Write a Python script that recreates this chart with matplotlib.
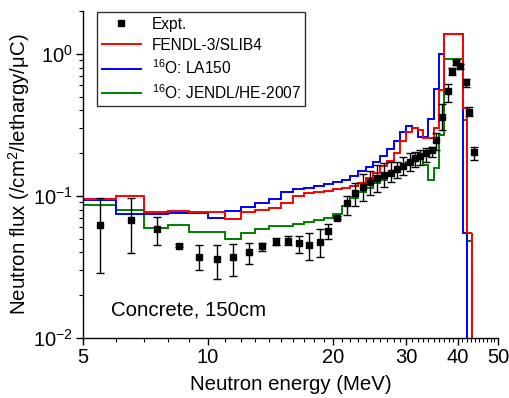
import numpy as np
import matplotlib
matplotlib.use("Agg")
import matplotlib.pyplot as plt
from matplotlib.lines import Line2D
from matplotlib.ticker import FixedLocator, MultipleLocator, LogLocator, NullFormatter, FuncFormatter

plt.rcParams['font.family'] = ['Liberation Sans', 'DejaVu Sans']
plt.rcParams['mathtext.fontset'] = 'custom'
plt.rcParams['mathtext.rm'] = 'Liberation Sans'
plt.rcParams['mathtext.it'] = 'Liberation Sans:italic'
plt.rcParams['mathtext.bf'] = 'Liberation Sans:bold'

# ---- histogram bin edges (MeV) ----
edges = [5, 6, 7, 8, 9, 10, 11, 12, 13, 14, 15, 16, 17, 18, 19, 20, 21, 22, 23, 24,
         25, 26, 27, 28, 29, 30, 31, 32, 33, 34, 35, 36, 37, 41.1, 42.1, 43.2]

fendl = [0.095, 0.099, 0.077, 0.078, 0.0776, 0.0772, 0.0686, 0.077, 0.0797, 0.0815,
         0.0888, 0.099, 0.1044, 0.107, 0.109, 0.111, 0.113, 0.118, 0.123, 0.133,
         0.146, 0.161, 0.176, 0.20, 0.245, 0.28, 0.298, 0.29, 0.255, 0.255,
         0.30, 0.56, 1.38, 0.415, 0.055]

la150 = [0.094, 0.0743, 0.0743, 0.0756, 0.0756, 0.0697, 0.0785, 0.0832, 0.0888, 0.0948,
         0.106, 0.1125, 0.114, 0.117, 0.121, 0.126, 0.130, 0.138, 0.149, 0.159,
         0.174, 0.19, 0.213, 0.245, 0.28, 0.308, 0.30, 0.259, 0.259, 0.349,
         0.565, 1.0, 1.38, 0.055]

jendl = [0.086, 0.079, 0.059, 0.062, 0.056, 0.056, 0.050, 0.055, 0.0586, 0.0615,
         0.061, 0.0636, 0.066, 0.068, 0.070, 0.074, 0.085, 0.097, 0.106, 0.114,
         0.123, 0.13, 0.138, 0.150, 0.16, 0.172, 0.182, 0.182, 0.165, 0.129,
         0.158, 0.27, 0.918, 0.343, 0.048]

# ---- experimental data ----
e_exp = [5.51, 6.51, 7.52, 8.51, 9.52, 10.5, 11.5, 12.56, 13.5, 14.6, 15.6, 16.6, 17.5,
         18.6, 19.5, 20.5, 21.6, 22.6, 23.6, 24.6, 25.5, 26.6, 27.6, 28.6, 29.5, 30.7,
         31.5, 32.5, 33.6, 34.6, 35.5, 36.7, 37.8, 38.7, 39.6, 40.6, 41.8, 42.6, 43.8]
f_exp = [0.0625, 0.0678, 0.0583, 0.0447, 0.0374, 0.0358, 0.037, 0.0405, 0.0447, 0.0477,
         0.0484, 0.0465, 0.0451, 0.0477, 0.057, 0.0704, 0.0889, 0.1056, 0.1164, 0.126,
         0.133, 0.1406, 0.1458, 0.154, 0.163, 0.174, 0.184, 0.191, 0.20, 0.209, 0.248,
         0.358, 0.543, 0.751, 0.869, 0.814, 0.628, 0.392, 0.202]
f_lo = [0.0287, 0.0395, 0.0451, 0.0437, 0.0300, 0.0259, 0.0275, 0.0332, 0.0409, 0.0451,
        0.0451, 0.0398, 0.0351, 0.0374, 0.0499, 0.069, 0.0735, 0.085, 0.092, 0.101,
        0.107, 0.116, 0.126, 0.133, 0.141, 0.149, 0.159, 0.166, 0.174, 0.189, 0.211,
        0.29, 0.461, 0.71, 0.83, 0.78, 0.583, 0.362, 0.179]
f_hi = [0.0965, 0.0965, 0.0707, 0.0457, 0.0451, 0.0451, 0.0458, 0.0469, 0.0469, 0.0503,
        0.052, 0.0523, 0.0545, 0.0581, 0.0633, 0.0717, 0.099, 0.124, 0.142, 0.149,
        0.165, 0.170, 0.174, 0.174, 0.189, 0.200, 0.205, 0.211, 0.218, 0.222, 0.276,
        0.44, 0.615, 0.79, 0.905, 0.85, 0.663, 0.42, 0.222]

x_ticks = [5, 10, 20, 30, 40, 50]

fig = plt.figure(figsize=(5.10, 3.98), dpi=100)
ax = fig.add_axes([0.1627, 0.1508, 0.8138, 0.8216])

lw = 1.4
floor = 1e-4
series = [(jendl, '#008000', r'$^{16}$O: JENDL/HE-2007'),
          (la150, '#0000ff', r'$^{16}$O: LA150'),
          (fendl, '#ff0000', 'FENDL-3/SLIB4')]
for vals, col, lab in series:
    e = edges[:len(vals) + 1]
    ax.stairs(vals, e, baseline=None, color=col, lw=lw)
    ax.vlines(e[-1], floor, vals[-1], color=col, lw=lw)

e_arr = np.array(e_exp)
f_arr = np.array(f_exp)
yerr = [f_arr - np.array(f_lo), np.array(f_hi) - f_arr]
ax.errorbar(e_arr, f_arr, yerr=yerr, fmt='s', color='black', ms=4.2,
            ecolor='black', elinewidth=1.0, capsize=2.8, capthick=1.0, zorder=5)

ax.set_xscale('log')
ax.set_yscale('log')
ax.set_xlim(5, 50)
ax.set_ylim(0.01, 2)

ax.xaxis.set_major_locator(FixedLocator(x_ticks))
ax.xaxis.set_major_formatter(FuncFormatter(lambda v, p: f"{v:g}"))
ax.xaxis.set_minor_locator(MultipleLocator(1))
ax.xaxis.set_minor_formatter(NullFormatter())
ax.yaxis.set_major_locator(LogLocator(base=10, numticks=10))
ax.yaxis.set_minor_locator(LogLocator(base=10, subs=np.arange(2, 10), numticks=10))
ax.yaxis.set_minor_formatter(NullFormatter())

for s in ['top', 'right']:
    ax.spines[s].set_visible(False)
for s in ['left', 'bottom']:
    ax.spines[s].set_linewidth(1.0)
ax.tick_params(which='major', direction='out', length=5, width=1.0, labelsize=14.5, pad=2)
ax.tick_params(which='minor', direction='out', length=3, width=0.8)

ax.set_xlabel('Neutron energy (MeV)', fontsize=14.7, labelpad=6)
ax.set_ylabel(r'Neutron flux (/cm$^2$/lethargy/μC)', fontsize=14.7, labelpad=1)

ax.text(0.067, 0.085, 'Concrete, 150cm', transform=ax.transAxes, fontsize=14.7,
        ha='left', va='center')

h_exp = Line2D([], [], ls='none', marker='s', color='black', ms=4.2)
h_red = Line2D([], [], color='#ff0000', lw=lw)
h_blue = Line2D([], [], color='#0000ff', lw=lw)
h_green = Line2D([], [], color='#008000', lw=lw)
leg = ax.legend([h_exp, h_red, h_blue, h_green],
                ['Expt.', 'FENDL-3/SLIB4', r'$^{16}$O: LA150', r'$^{16}$O: JENDL/HE-2007'],
                loc='upper left', bbox_to_anchor=(0.034, 0.997), borderaxespad=0,
                fontsize=11.2, frameon=True, fancybox=False, handlelength=2.5,
                labelspacing=0.38, borderpad=0.3, handletextpad=0.7)
leg.get_frame().set_edgecolor('black')
leg.get_frame().set_linewidth(1.0)

fig.savefig('out.png', dpi=100)
